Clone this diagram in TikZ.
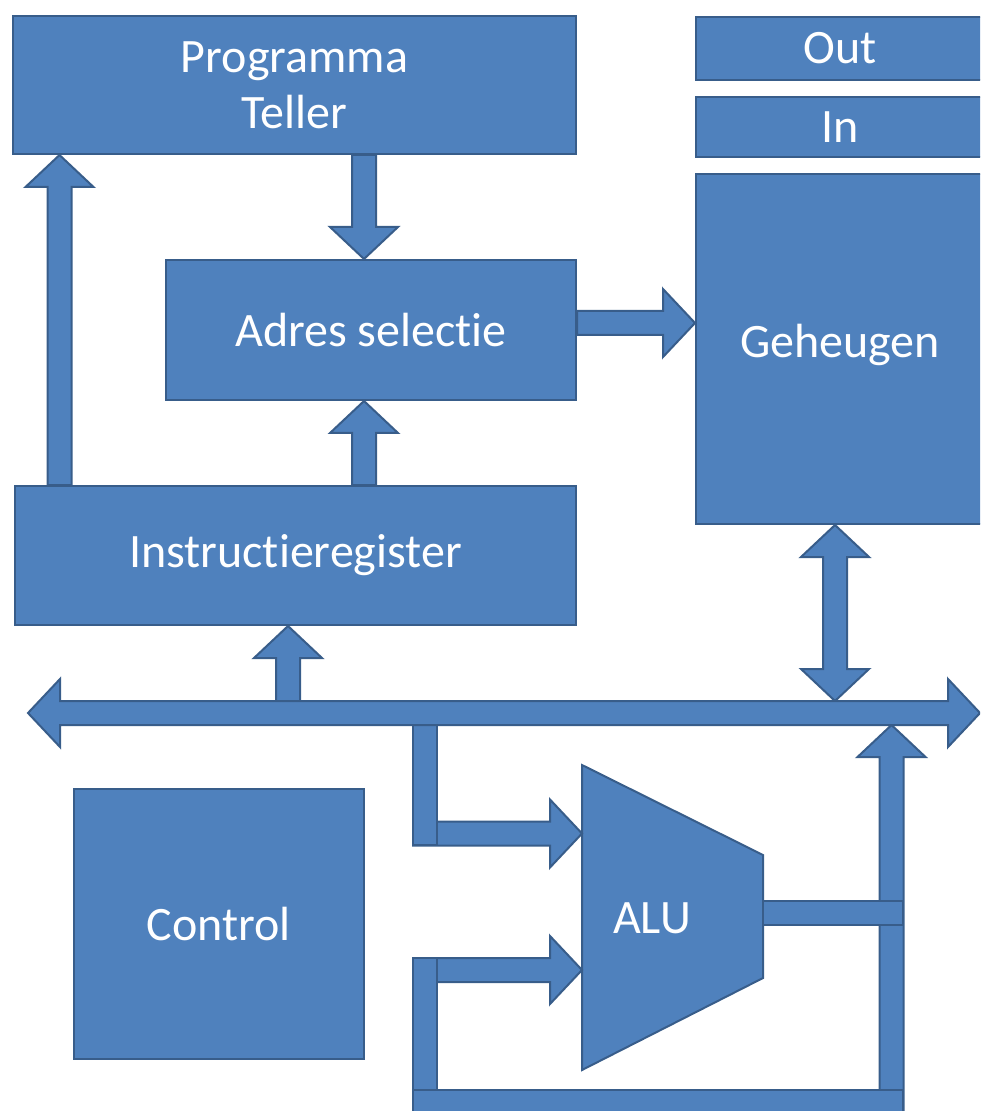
\documentclass[tikz,border=0pt]{standalone}
\usepackage{fontspec}
\setmainfont{Carlito}[Ligatures={NoCommon}]
\usepackage{tikz}
\usetikzlibrary{positioning,calc}
\usepackage{xcolor}
\definecolor{officeblue}{HTML}{4F81BD}
\definecolor{officeborder}{HTML}{385D8A}

% block arrows between named points (shaft 24px, head 68px wide, 32px long)
\newcommand{\fatarrow}[2]{%
  \coordinate (hb) at ($(#2)!16pt!(#1)$);
  \filldraw[busline] ($(#1)!6pt!90:(#2)$) -- ($(hb)!6pt!90:(#2)$) -- ($(hb)!17pt!90:(#2)$) -- (#2)
    -- ($(hb)!17pt!-90:(#2)$) -- ($(hb)!6pt!-90:(#2)$) -- ($(#1)!6pt!-90:(#2)$) -- cycle;}
\newcommand{\fatdarrow}[2]{%
  \coordinate (ha) at ($(#1)!16pt!(#2)$);
  \coordinate (hb) at ($(#2)!16pt!(#1)$);
  \filldraw[busline] (#1) -- ($(ha)!17pt!-90:(#2)$) -- ($(ha)!6pt!-90:(#2)$) -- ($(hb)!6pt!90:(#1)$)
    -- ($(hb)!17pt!90:(#1)$) -- (#2) -- ($(hb)!17pt!-90:(#1)$) -- ($(hb)!6pt!-90:(#1)$)
    -- ($(ha)!6pt!90:(#2)$) -- ($(ha)!17pt!90:(#2)$) -- cycle;}
\newcommand{\fatbar}[2]{%
  \filldraw[busline] ($(#1)!6pt!90:(#2)$) -- ($(#2)!6pt!-90:(#1)$) -- ($(#2)!6pt!90:(#1)$)
    -- ($(#1)!6pt!-90:(#2)$) -- cycle;}

\begin{document}
\begin{tikzpicture}[
  x=0.5pt, y=-0.5pt,
  font=\fontsize{24}{28}\selectfont,
  unit/.style={
    draw=officeborder,
    fill=officeblue,
    line width=1pt,
    inner sep=0pt,
    align=center,
    text=white
  },
  busline/.style={
    draw=officeborder,
    fill=officeblue,
    line width=1pt,
    line join=miter
  }
]
  \useasboundingbox (0,0) rectangle (980,1111);
  \clip (0,0) rectangle (980,1111);

  % --- LEFT COLUMN: counter, address selection, instruction register ---
  \node[unit, minimum width=281.5pt, minimum height=69pt, anchor=north west] (teller) at (12,15) {Programma\\Teller};
  \node[unit, minimum width=205pt, minimum height=70pt, below=52pt of teller.south east, anchor=north east] (adres) {Adres selectie};
  \node[unit, minimum width=280.5pt, minimum height=69.5pt, below=42pt of adres.south east, anchor=north east] (instr) {Instructieregister};

  % --- RIGHT COLUMN: ports and memory (cut by the right edge) ---
  \node[unit, minimum width=160pt, minimum height=31.5pt, anchor=north west] (outport) at (695,16) {};
  \node[unit, minimum width=160pt, minimum height=30pt, below=7.5pt of outport.south west, anchor=north west] (inport) {};
  \node[unit, minimum width=160pt, minimum height=175pt, below=7.5pt of inport.south west, anchor=north west] (geheugen) {};
  \node[text=white] (outlabel) at ($(outport.west)+(145,0)$) {Out};
  \node[text=white] (inlabel) at ($(inport.west)+(145,0)$) {In};
  \node[text=white] (memlabel) at ($(geheugen.west)+(145,-4)$) {Geheugen};

  % --- BOTTOM: control and ALU ---
  \node[unit, minimum width=145pt, minimum height=135pt, anchor=north west] (control) at (73,788) {Control};
  \filldraw[busline] (582,765) -- (763,855) -- (763,978) -- (582,1070) -- cycle;
  \node[text=white] (alu) at (652,918) {ALU};

  % Connection points
  \coordinate (busl) at (28,713);
  \coordinate (busr) at (980,713);
  \coordinate (irtap) at ($(instr.south)+(-7.5,0)$);
  \coordinate (irbus) at (irtap |- busl);
  \coordinate (irpc) at ($(instr.north west)+(45.5,0)$);
  \coordinate (pcin) at (irpc |- teller.south);
  \coordinate (adrin) at ($(adres.south)+(-7,0)$);
  \coordinate (iradr) at (adrin |- instr.north);
  \coordinate (adrtop) at ($(adres.north)+(-7,0)$);
  \coordinate (pcout) at (adrtop |- teller.south);
  \coordinate (adrout) at ($(adres.east)+(0,-7)$);
  \coordinate (memin) at (adrout -| geheugen.west);
  \coordinate (memtap) at ($(geheugen.south west)+(140,0)$);
  \coordinate (membus) at ($(memtap |- busl)+(0,-12)$);
  \coordinate (aluin1) at (582,833.5);
  \coordinate (aluin2) at (582,970);
  \coordinate (aluout) at (763,913);
  \coordinate (tapa) at (425,713);
  \coordinate (tapb) at (425,845);
  \coordinate (feeda) at (aluin1 -| 413,0);
  \coordinate (feedb) at (aluin2 -| 413,0);
  \coordinate (loopl) at (425,958);
  \coordinate (loopll) at (425,1120);
  \coordinate (loopbl) at (413,1102);
  \coordinate (loopbr) at (903,1102);
  \coordinate (retbot) at (891.5,1120);
  \coordinate (rettop) at (891.5,725);
  \coordinate (outr) at (aluout -| 903,0);

  % Connecting arrows
  \fatarrow{irpc}{pcin}
  \fatarrow{pcout}{adrtop}
  \fatarrow{iradr}{adrin}
  \fatarrow{adrout}{memin}
  \fatdarrow{memtap}{membus}
  \fatarrow{irbus}{irtap}

  % ALU inputs and feedback loop
  \fatarrow{feeda}{aluin1}
  \fatbar{tapa}{tapb}
  \fatarrow{retbot}{rettop}
  \fatbar{aluout}{outr}
  \fatarrow{feedb}{aluin2}
  \fatbar{loopl}{loopll}
  \fatbar{loopbl}{loopbr}

  % Data bus
  \fatdarrow{busl}{busr}

\end{tikzpicture}
\end{document}
